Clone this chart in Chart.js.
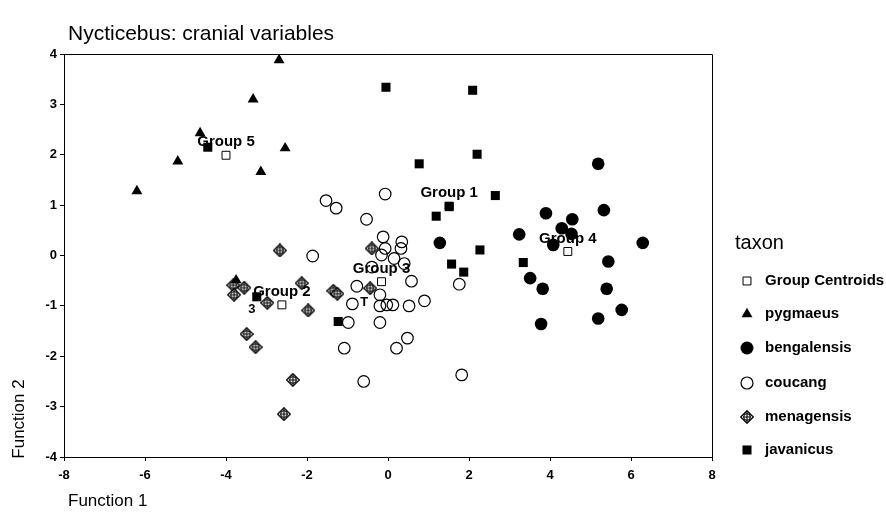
<!DOCTYPE html>
<html>
<head>
<meta charset="utf-8">
<title>Nycticebus: cranial variables</title>
<script src="https://cdn.jsdelivr.net/npm/chart.js@4/dist/chart.umd.min.js"></script>
<style>
  html, body { margin: 0; padding: 0; background: #fff; }
  #wrap { width: 886px; height: 532px; position: relative; }
</style>
</head>
<body>
<div id="wrap"><canvas id="mainChart" width="886" height="532"></canvas></div>
<script>
// discriminant scores, [function 1, function 2]
const pygmaeus = [
  [-2.69, 3.88], [-3.33, 3.10], [-4.64, 2.43], [-5.19, 1.87], [-6.20, 1.28],
  [-2.54, 2.13], [-3.14, 1.66], [-3.75, -0.49]
];
const bengalensis = [
  [5.19, 1.82], [5.33, 0.90], [3.90, 0.84], [4.55, 0.72], [4.29, 0.54],
  [3.24, 0.42], [4.53, 0.43], [4.08, 0.21], [1.28, 0.25], [6.29, 0.25],
  [5.44, -0.12], [3.51, -0.45], [3.82, -0.66], [5.40, -0.66], [5.77, -1.08],
  [5.19, -1.25], [3.78, -1.36]
];
const coucang = [
  [-0.07, 1.22], [-1.53, 1.09], [-1.28, 0.94], [-0.53, 0.72], [-1.86, -0.01],
  [-0.12, 0.37], [0.34, 0.27], [0.32, 0.14], [-0.07, 0.14], [-0.16, 0.01],
  [0.15, -0.06], [0.40, -0.16], [-0.40, -0.23], [0.58, -0.51], [-0.77, -0.61],
  [-0.20, -0.78], [-0.88, -0.96], [-0.20, -1.00], [-0.03, -0.98], [0.12, -0.98],
  [0.52, -1.00], [0.90, -0.90], [1.76, -0.57], [-0.98, -1.33], [-0.20, -1.33],
  [-1.08, -1.84], [0.21, -1.84], [0.48, -1.64], [1.82, -2.37], [-0.60, -2.50]
];
const menagensis = [
  [-2.67, 0.10], [-0.40, 0.14], [-3.82, -0.59], [-3.55, -0.64], [-3.80, -0.78],
  [-2.13, -0.55], [-2.98, -0.94], [-1.97, -1.09], [-1.35, -0.70], [-1.25, -0.76],
  [-0.44, -0.65], [-3.49, -1.56], [-3.27, -1.82], [-2.35, -2.47], [-2.57, -3.15]
];
const javanicus = [
  [-0.05, 3.34], [2.09, 3.28], [2.20, 2.01], [0.77, 1.82], [2.65, 1.19],
  [1.51, 0.97], [1.19, 0.78], [2.27, 0.11], [1.57, -0.17], [1.87, -0.33],
  [3.34, -0.14], [-1.23, -1.31], [-4.45, 2.15], [-3.24, -0.82]
];
const centroids = [[1.51, 0.98], [-2.62, -0.98], [-0.16, -0.52], [4.44, 0.08], [-4.00, 1.99]];
const centroidLabels = ['Group 1', 'Group 2', 'Group 3', 'Group 4', 'Group 5'];
const caseLabels = ['3', 'T'];
const caseLabelPos = [[-3.36, -1.08], [-0.59, -0.94]];
const xRange = [-8, 8];
const yRange = [-4, 4];

const FONT = '"Liberation Sans", Arial, sans-serif';
const toXY = arr => arr.map(p => ({ x: p[0], y: p[1] }));

// diamond with a circle and cross inside
function makeMenagensis(size) {
  const c = document.createElement('canvas');
  c.width = size; c.height = size;
  const g = c.getContext('2d');
  const h = size / 2;
  g.fillStyle = '#fff';
  g.strokeStyle = '#000';
  g.lineWidth = 1.25;
  g.beginPath();
  g.moveTo(h, 0.7); g.lineTo(size - 0.7, h); g.lineTo(h, size - 0.7); g.lineTo(0.7, h);
  g.closePath();
  g.fill();
  g.stroke();
  g.lineWidth = 1.1;
  g.beginPath();
  g.arc(h, h, 3.2, 0, Math.PI * 2);
  g.stroke();
  g.beginPath();
  g.moveTo(h, 1.5); g.lineTo(h, size - 1.5);
  g.moveTo(3, h); g.lineTo(size - 3, h);
  g.stroke();
  return c;
}
const menagensisMark = makeMenagensis(14);

const NONE = 'rgba(0,0,0,0)';
const legendItems = [
  { text: 'Group Centroids', pointStyle: 'rect', radius: 5.6, fill: NONE, border: 1 },
  { text: 'pygmaeus', pointStyle: 'triangle', radius: 6.3, fill: '#000', border: 0 },
  { text: 'bengalensis', pointStyle: 'circle', radius: 6.5, fill: '#000', border: 0 },
  { text: 'coucang', pointStyle: 'circle', radius: 6, fill: NONE, border: 1.2 },
  { text: 'menagensis', pointStyle: menagensisMark, radius: 6, fill: NONE, border: 0 },
  { text: 'javanicus', pointStyle: 'rect', radius: 6.4, fill: '#000', border: 0 }
];
const legendY = [281, 314, 348, 383, 417, 450];

const decorPlugin = {
  id: 'decor',
  afterDatasetsDraw(chart) {
    const ctx = chart.ctx;
    const xs = chart.scales.x, ys = chart.scales.y;
    ctx.save();
    ctx.fillStyle = '#000';
    ctx.textAlign = 'center';
    ctx.textBaseline = 'middle';
    ctx.font = 'bold 15px ' + FONT;
    centroids.forEach((p, i) => {
      ctx.fillText(centroidLabels[i], xs.getPixelForValue(p[0]), ys.getPixelForValue(p[1]) - 13);
    });
    ctx.font = 'bold 13px ' + FONT;
    caseLabelPos.forEach((p, i) => {
      ctx.fillText(caseLabels[i], xs.getPixelForValue(p[0]), ys.getPixelForValue(p[1]));
    });
    ctx.restore();
  },
  afterDraw(chart) {
    const ctx = chart.ctx;
    const a = chart.chartArea;
    ctx.save();
    // top and right frame lines
    ctx.strokeStyle = '#000';
    ctx.lineWidth = 1;
    ctx.beginPath();
    ctx.moveTo(a.left, Math.round(a.top) + 0.5);
    ctx.lineTo(Math.round(a.right) + 0.5, Math.round(a.top) + 0.5);
    ctx.lineTo(Math.round(a.right) + 0.5, a.bottom);
    ctx.stroke();

    ctx.fillStyle = '#000';
    ctx.textBaseline = 'alphabetic';
    ctx.textAlign = 'left';
    ctx.font = '21px ' + FONT;
    ctx.fillText('Nycticebus: cranial variables', 68, 40);

    ctx.font = '17px ' + FONT;
    ctx.fillText('Function 1', 68, 506);
    ctx.save();
    ctx.translate(24, 419);
    ctx.rotate(-Math.PI / 2);
    ctx.textAlign = 'center';
    ctx.fillText('Function 2', 0, 0);
    ctx.restore();

    // legend
    ctx.font = '20px ' + FONT;
    ctx.fillText('taxon', 735, 249);
    ctx.font = 'bold 15px ' + FONT;
    ctx.textBaseline = 'middle';
    legendItems.forEach((it, i) => {
      const y = legendY[i];
      ctx.fillStyle = it.fill;
      ctx.strokeStyle = '#000';
      ctx.lineWidth = it.border;
      if (Chart.helpers && Chart.helpers.drawPoint) {
        Chart.helpers.drawPoint(ctx, { pointStyle: it.pointStyle, radius: it.radius, rotation: 0, borderWidth: it.border }, 747, y);
      }
      ctx.fillStyle = '#000';
      ctx.fillText(it.text, 765, y);
    });
    ctx.restore();
  }
};

const tickFont = { family: FONT, size: 13, weight: 'bold' };

new Chart(document.getElementById('mainChart').getContext('2d'), {
  type: 'scatter',
  data: {
    datasets: [
      { label: 'Group Centroids', data: toXY(centroids), pointStyle: 'rect', pointRadius: 5.6,
        backgroundColor: NONE, borderColor: '#000', borderWidth: 1 },
      { label: 'pygmaeus', data: toXY(pygmaeus), pointStyle: 'triangle', pointRadius: 6.3,
        backgroundColor: '#000', borderColor: '#000', borderWidth: 0 },
      { label: 'bengalensis', data: toXY(bengalensis), pointStyle: 'circle', pointRadius: 6.3,
        backgroundColor: '#000', borderColor: '#000', borderWidth: 0 },
      { label: 'coucang', data: toXY(coucang), pointStyle: 'circle', pointRadius: 5.8,
        backgroundColor: NONE, borderColor: '#000', borderWidth: 1.2 },
      { label: 'menagensis', data: toXY(menagensis), pointStyle: menagensisMark, pointRadius: 6,
        backgroundColor: NONE, borderColor: '#000', borderWidth: 0 },
      { label: 'javanicus', data: toXY(javanicus), pointStyle: 'rect', pointRadius: 6.4,
        backgroundColor: '#000', borderColor: '#000', borderWidth: 0 }
    ]
  },
  options: {
    responsive: false,
    animation: false,
    events: [],
    layout: { padding: { top: 54, right: 174, left: 0, bottom: 0 } },
    plugins: {
      legend: { display: false },
      tooltip: { enabled: false },
      title: { display: false }
    },
    scales: {
      x: {
        type: 'linear',
        min: xRange[0], max: xRange[1],
        ticks: { stepSize: 2, color: '#000', font: tickFont, padding: 7, maxRotation: 0 },
        grid: { display: true, drawOnChartArea: false, drawTicks: true, tickLength: 4, color: '#000' },
        border: { display: true, color: '#000', width: 1 },
        afterFit(scale) { scale.height = 75; }
      },
      y: {
        type: 'linear',
        min: yRange[0], max: yRange[1],
        ticks: { stepSize: 1, color: '#000', font: tickFont, padding: 3 },
        grid: { display: true, drawOnChartArea: false, drawTicks: true, tickLength: 4, color: '#000' },
        border: { display: true, color: '#000', width: 1 },
        afterFit(scale) { scale.width = 64; }
      }
    }
  },
  plugins: [decorPlugin]
});
</script>
</body>
</html>
